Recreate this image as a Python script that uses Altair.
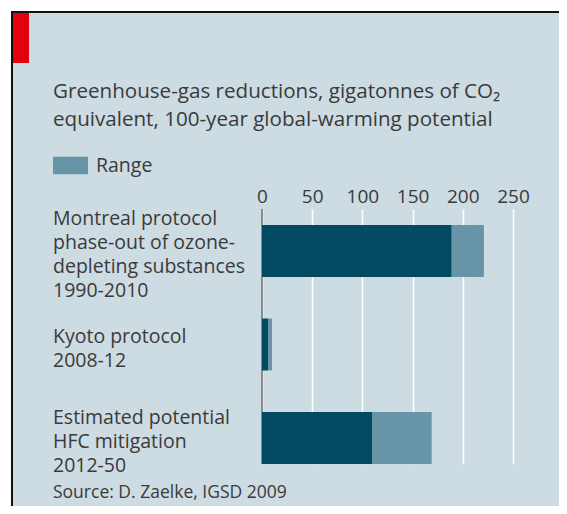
import altair as alt
import pandas as pd

# ---- data ----
categories = [
    "Montreal protocol|phase-out of ozone-|depleting substances|1990-2010",
    "Kyoto protocol|2008-12",
    "Estimated potential|HFC mitigation|2012-50",
]
low_values = [189, 6, 110]      # dark part of each bar
high_values = [221, 10, 169]    # end of the light "Range" part
x_ticks = [0, 50, 100, 150, 200, 250]
series_names = ["Range", "Estimate"]
title_lines = "Greenhouse-gas reductions, gigatonnes of CO\u2082|equivalent, 100-year global-warming potential"
source_text = "Source: D. Zaelke, IGSD 2009"

# ---- style ----
BG = "#cddbe2"
DARK = "#024a62"
LIGHT = "#6794a7"
TEXT = "#3a3a3a"
RED = "#e3000f"
FONT = "Open Sans"
FS = 19.5
LH = 24
HALF_BAND = 26

W, H = 251, 255
PAD = {"left": 254, "top": 201, "right": 46, "bottom": 42}

rows = []
for c, lo, hi in zip(categories, low_values, high_values):
    rows.append({"cat": c, "series": "Estimate", "start": 0, "end": lo})
    rows.append({"cat": c, "series": "Range", "start": lo, "end": hi})
bars_df = pd.DataFrame(rows)
cat_df = pd.DataFrame({"cat": categories})

yscale = alt.Scale(domain=categories, paddingInner=0.444, paddingOuter=0.0856, align=1)
xscale = alt.Scale(domain=[0, 250], nice=False)

one = alt.Data(values=[{"a": 1}])

# decorative frame: white strip + black border line, red tab
white_v = alt.Chart(one).mark_rect(color="white").encode(
    x=alt.value(-PAD["left"]), x2=alt.value(-PAD["left"] + 3),
    y=alt.value(-PAD["top"]), y2=alt.value(H + PAD["bottom"]))
white_h = alt.Chart(one).mark_rect(color="white").encode(
    x=alt.value(-PAD["left"]), x2=alt.value(W + PAD["right"]),
    y=alt.value(-PAD["top"]), y2=alt.value(-PAD["top"] + 3))
black_v = alt.Chart(one).mark_rule(color="#111111", strokeWidth=2).encode(
    x=alt.value(-PAD["left"] + 4), y=alt.value(-PAD["top"] + 3), y2=alt.value(H + PAD["bottom"]))
black_h = alt.Chart(one).mark_rule(color="#111111", strokeWidth=2).encode(
    y=alt.value(-PAD["top"] + 4), x=alt.value(-PAD["left"] + 3), x2=alt.value(W + PAD["right"]))
red_tab = alt.Chart(one).mark_rect(color=RED).encode(
    x=alt.value(-PAD["left"] + 5), x2=alt.value(-PAD["left"] + 21),
    y=alt.value(-PAD["top"] + 5), y2=alt.value(-PAD["top"] + 55))

title = alt.Chart(one).mark_text(
    align="left", baseline="alphabetic", font=FONT, fontSize=20.6, color=TEXT,
    lineBreak="|", lineHeight=28).encode(
    x=alt.value(-209), y=alt.value(-111), text=alt.value(title_lines))

source = alt.Chart(one).mark_text(
    align="left", baseline="alphabetic", font=FONT, fontSize=17.5, color=TEXT).encode(
    x=alt.value(-209), y=alt.value(289), text=alt.value(source_text))

zero_rule = alt.Chart(alt.Data(values=[{"v": 0}])).mark_rule(
    color="#6a6a6a", strokeWidth=1.5).encode(
    x=alt.X("v:Q", scale=xscale), y=alt.value(0), y2=alt.value(H))

bars = alt.Chart(bars_df).mark_bar().encode(
    x=alt.X("start:Q", scale=xscale,
            axis=alt.Axis(orient="top", values=x_ticks, title=None, grid=True,
                          gridColor="white", gridWidth=1.6, domain=False, ticks=False,
                          labelPadding=7, labelBaseline="alphabetic", labelFlush=False,
                          labelFont=FONT, labelFontSize=19, labelColor=TEXT)),
    x2="end:Q",
    y=alt.Y("cat:N", scale=yscale, axis=None, sort=categories),
    color=alt.Color("series:N",
                    scale=alt.Scale(domain=series_names, range=[LIGHT, DARK]),
                    legend=alt.Legend(title=None, values=["Range"], orient="none",
                                      legendX=-209, legendY=-61,
                                      symbolType="M-1,-0.5H1V0.5H-1Z", symbolSize=1225,
                                      symbolStrokeWidth=0, symbolOpacity=1,
                                      labelFont=FONT, labelFontSize=FS, labelColor=TEXT,
                                      labelOffset=8, padding=0)),
)

# category labels: multi-line blocks centred on their bar
labels = alt.Chart(cat_df).transform_calculate(
    nlines="length(split(datum.cat, '|'))",
    shift=f"{HALF_BAND} - (datum.nlines - 1) * {LH} / 2",
).mark_text(
    align="left", baseline="middle", dy=4, font=FONT, fontSize=FS, color=TEXT,
    lineBreak="|", lineHeight=LH).encode(
    x=alt.value(-209),
    y=alt.Y("cat:N", scale=yscale, axis=None, sort=categories),
    yOffset=alt.YOffset("shift:Q", scale=None),
    text="cat:N")

chart = alt.layer(
    white_v, white_h, black_v, black_h, red_tab, title, source,
    zero_rule, bars, labels
).properties(
    width=W, height=H,
    autosize=alt.AutoSizeParams(type="none"),
    padding=PAD,
    background=BG,
).configure_view(stroke=None)

chart.save("out.html", embed_options={"renderer": "svg", "actions": False})
